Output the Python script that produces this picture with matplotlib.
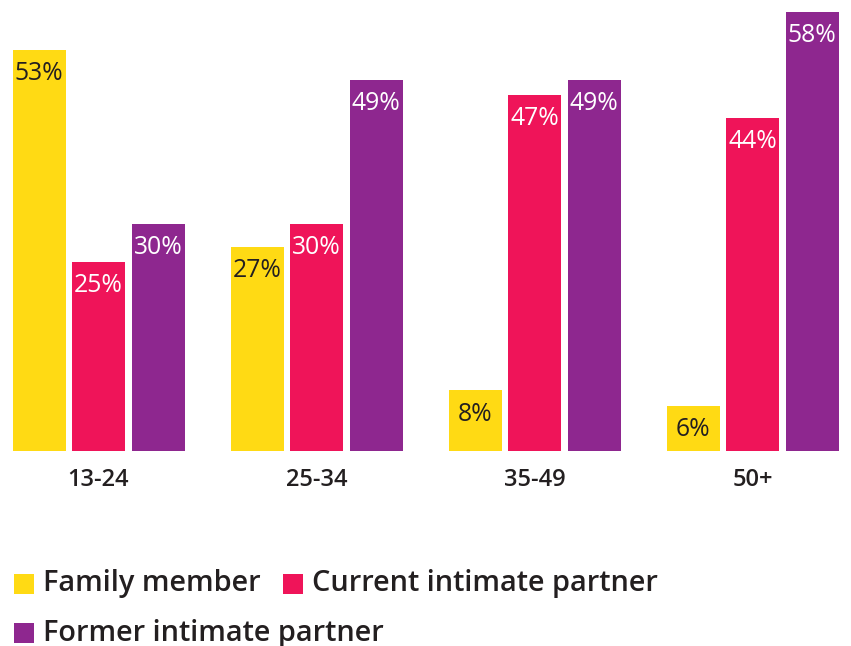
import numpy as np
from matplotlib import pyplot as plt
from matplotlib.patches import Rectangle

plt.rcParams['font.family'] = ['Open Sans', 'DejaVu Sans']

groups = ['13-24', '25-34', '35-49', '50+']
series = ['Family member', 'Current intimate partner', 'Former intimate partner']
family = [53, 27, 8, 6]
current = [25, 30, 47, 44]
former = [30, 49, 49, 58]
colors = ['#FFDA14', '#EF1459', '#8E278F']
label_colors = ['#231F20', 'white', 'white']
dark = '#231F20'

W, H = 851, 646
fig = plt.figure(figsize=(W / 100, H / 100), dpi=100)

# axes spans the full width, bottom at the baseline (y=451 px from top)
ax = fig.add_axes([0, (H - 451) / H, 1, 451 / H])
step = 218.0
x = np.arange(len(groups))
bw = 53 / step
off = 59.5 / step
ax.set_xlim(-98.5 / step, (W - 98.5) / step)
ax.set_ylim(0, 451 / 7.57)

for i, vals in enumerate([family, current, former]):
    xs = x + (i - 1) * off
    ax.bar(xs, vals, width=bw, color=colors[i], linewidth=0)
    for xi, v in zip(xs, vals):
        ax.annotate(f'{v}%', (xi, v), xytext=(0, -8), textcoords='offset points',
                    ha='center', va='top', fontsize=17.8, color=label_colors[i])

ax.set_xticks(x)
ax.set_xticklabels(groups, fontsize=17, fontweight='semibold', color=dark)
ax.tick_params(axis='x', length=0, pad=12)
ax.set_yticks([])
for s in ax.spines.values():
    s.set_visible(False)

# legend drawn by hand so it wraps like the original
legend_items = [(14, 584, 0), (283, 584, 1), (14, 633, 2)]
for px, py, k in legend_items:
    fig.patches.append(Rectangle((px / W, (H - py - 10) / H), 20 / W, 20 / H,
                                 transform=fig.transFigure, color=colors[k], linewidth=0))
    fig.text((px + 29) / W, (H - py) / H, series[k], fontsize=20.8, fontweight='semibold',
             color=dark, va='center', ha='left')

plt.savefig('out.png', dpi=100)
